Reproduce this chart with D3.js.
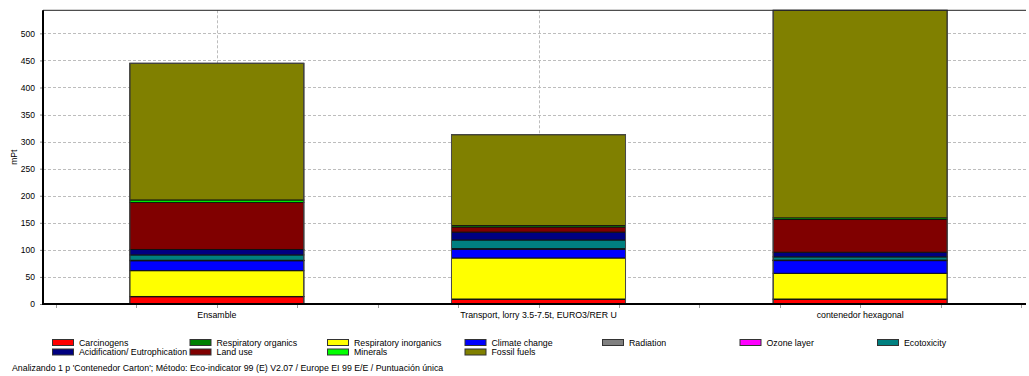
<!DOCTYPE html>
<html>
<head>
<meta charset="utf-8">
<script src="https://cdn.jsdelivr.net/npm/d3@7/dist/d3.min.js"></script>
<style>
  html, body { margin: 0; padding: 0; background: #fff; }
  svg { display: block; }
  text { font-family: "Liberation Sans", Arial, sans-serif; fill: #000; }
</style>
</head>
<body>
<svg id="chart" width="1029" height="376"></svg>
<script>
// Categories (product stages)
const categories = ["Ensamble", "Transport, lorry 3.5-7.5t, EURO3/RER U", "contenedor hexagonal"];

// Impact categories, in stacking order (bottom to top)
const impacts = ["Carcinogens", "Respiratory organics", "Respiratory inorganics", "Climate change",
  "Radiation", "Ozone layer", "Ecotoxicity", "Acidification/ Eutrophication", "Land use", "Minerals", "Fossil fuels"];
const impactColors = ["#ff0000", "#008000", "#ffff00", "#0000ff",
  "#808080", "#ff00ff", "#008080", "#000080", "#800000", "#00ff00", "#808000"];

// Single score per impact category (mPt), one array per product stage
const ensambleValues    = [13.5, 0.4, 47.7, 18.4, 0.3, 0.5, 9.9, 10.0, 87.0, 4.5, 252.5];
const transportValues   = [8.7, 0.5, 75.8, 16.5, 0.3, 0.5, 16.0, 14.5, 9.5, 2.5, 168.0];
const contenedorValues  = [8.7, 0.5, 47.5, 23.5, 0.3, 0.6, 6.0, 8.5, 60.5, 3.0, 383.5];

const yTicks = [0, 50, 100, 150, 200, 250, 300, 350, 400, 450, 500];
const yTitle = "mPt";
const footer = "Analizando 1 p 'Contenedor Carton';  Método: Eco-indicator 99 (E) V2.07 /  Europe EI 99 E/E / Puntuación única";

const seriesByCategory = [ensambleValues, transportValues, contenedorValues];
const table = categories.map((c, i) => {
  const row = { category: c };
  impacts.forEach((k, j) => row[k] = seriesByCategory[i][j]);
  return row;
});

const svg = d3.select("#chart");
const plot = { left: 43, right: 1026, top: 10.3, bottom: 304 };
const fontSize = "8.8px";

const stack = d3.stack().keys(impacts);
const layers = stack(table);
const maxTotal = d3.max(seriesByCategory, v => d3.sum(v));

const x = d3.scaleBand().domain(categories).range([56, 1021]).paddingInner(0.459).paddingOuter(0.2295);
const y = d3.scaleLinear().domain([0, maxTotal]).range([plot.bottom, plot.top]);
const color = d3.scaleOrdinal().domain(impacts).range(impactColors);

// Horizontal grid
svg.append("g").selectAll("line").data(yTicks.filter(d => d > 0)).join("line")
  .attr("x1", plot.left).attr("x2", plot.right)
  .attr("y1", d => Math.round(y(d)) + 0.5).attr("y2", d => Math.round(y(d)) + 0.5)
  .attr("stroke", "#bdbdbd").attr("stroke-dasharray", "3,2");

// Vertical grid at category centres
svg.append("g").selectAll("line").data(categories).join("line")
  .attr("x1", d => Math.round(x(d) + x.bandwidth() / 2) + 0.5)
  .attr("x2", d => Math.round(x(d) + x.bandwidth() / 2) + 0.5)
  .attr("y1", plot.top).attr("y2", plot.bottom)
  .attr("stroke", "#bdbdbd").attr("stroke-dasharray", "3,2");

// Stacked bars
svg.append("g").selectAll("g").data(layers).join("g")
  .attr("fill", d => color(d.key))
  .selectAll("rect").data(d => d).join("rect")
  .attr("x", d => x(d.data.category))
  .attr("width", x.bandwidth())
  .attr("y", d => y(d[1]))
  .attr("height", d => Math.max(0, y(d[0]) - y(d[1])))
  .attr("stroke", "#111").attr("stroke-width", 1);

// Bar outlines
svg.append("g").selectAll("rect").data(table).join("rect")
  .attr("x", d => x(d.category))
  .attr("width", x.bandwidth())
  .attr("y", d => y(d3.sum(impacts, k => d[k])))
  .attr("height", d => y(0) - y(d3.sum(impacts, k => d[k])))
  .attr("fill", "none").attr("stroke", "#4a4a4a").attr("stroke-width", 1);

// Frame line along the top
svg.append("line").attr("x1", plot.left).attr("x2", plot.right).attr("y1", plot.top).attr("y2", plot.top)
  .attr("stroke", "#222").attr("stroke-width", 1);

// Y axis
const yAxis = d3.axisLeft(y).tickValues(yTicks).tickSize(3).tickPadding(5).tickFormat(d3.format("d"));
const gy = svg.append("g").attr("transform", `translate(${plot.left},0)`).call(yAxis);
gy.select(".domain").remove();
gy.selectAll(".tick line").attr("stroke", "#888");
gy.selectAll(".tick text").style("font-family", "'Liberation Sans', Arial, sans-serif").style("font-size", "8.5px");
svg.append("line").attr("x1", plot.left).attr("x2", plot.left).attr("y1", plot.top).attr("y2", plot.bottom + 1)
  .attr("stroke", "#000").attr("stroke-width", 2);

// X axis: tick marks every quarter band, labels at centres
const xEdges = d3.range(13).map(i => 56 + i * (1021 - 56) / 12);
svg.append("g").selectAll("line").data(xEdges).join("line")
  .attr("x1", d => Math.round(d) + 0.5).attr("x2", d => Math.round(d) + 0.5)
  .attr("y1", plot.bottom + 1).attr("y2", plot.bottom + 4)
  .attr("stroke", "#999");
svg.append("line").attr("x1", plot.left - 1).attr("x2", plot.right).attr("y1", plot.bottom).attr("y2", plot.bottom)
  .attr("stroke", "#000").attr("stroke-width", 2);
svg.append("g").selectAll("text").data(categories).join("text")
  .attr("x", d => x(d) + x.bandwidth() / 2).attr("y", 318)
  .attr("text-anchor", "middle").style("font-size", fontSize)
  .text(d => d);

// Y title
svg.append("text").attr("transform", `translate(17,${(plot.top + plot.bottom) / 2}) rotate(-90)`)
  .attr("text-anchor", "middle").style("font-size", "8.5px").text(yTitle);

// Legend (7 columns, row-major)
const legend = svg.append("g").selectAll("g").data(impacts).join("g")
  .attr("transform", (d, i) => `translate(${52 + (i % 7) * 137.5},${339 + Math.floor(i / 7) * 9.5})`);
legend.append("rect").attr("x", 0.5).attr("y", 0.5).attr("width", 21).attr("height", 6)
  .attr("fill", d => color(d)).attr("stroke", "#333").attr("stroke-width", 1);
legend.append("text").attr("x", 27).attr("y", 6.8).style("font-size", fontSize).text(d => d);

// Footer
svg.append("text").attr("x", 12).attr("y", 371).style("font-size", fontSize).text(footer);
</script>
</body>
</html>
